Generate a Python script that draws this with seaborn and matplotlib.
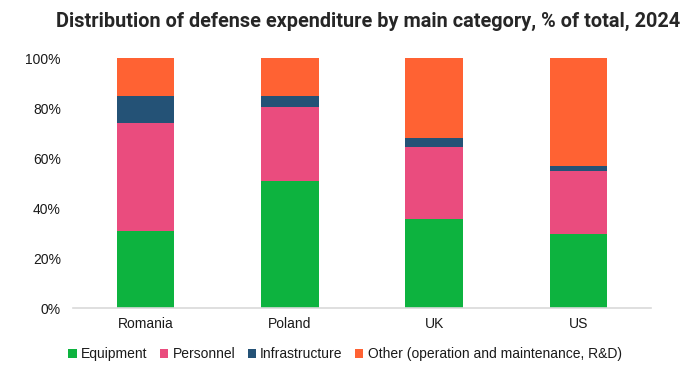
import numpy as np
import pandas as pd
import seaborn as sns
from matplotlib import pyplot as plt
from matplotlib.patches import Patch
from matplotlib.ticker import FuncFormatter

countries = ["Romania", "Poland", "UK", "US"]
categories = ["Equipment", "Personnel", "Infrastructure",
              "Other (operation and maintenance, R&D)"]
equipment = [30.8, 51.0, 35.8, 29.8]
personnel = [43.4, 29.6, 28.6, 25.2]
infrastructure = [10.8, 4.4, 3.8, 1.8]
other = [15.0, 15.0, 31.8, 43.2]
colors = ["#0db33f", "#ea4c7e", "#245276", "#ff6233"]

sns.set_theme(style="white")
plt.rcParams['font.family'] = ['Liberation Sans', 'DejaVu Sans']

df = pd.DataFrame({"country": countries, "Equipment": equipment,
                   "Personnel": personnel, "Infrastructure": infrastructure,
                   "Other": other})
# cumulative tops, drawn from the tallest down so the stack shows
cum = df[["Equipment", "Personnel", "Infrastructure", "Other"]].cumsum(axis=1)

fig = plt.figure(figsize=(6.97, 3.85), dpi=100)
ax = fig.add_axes([0.1052, 0.1992, 0.8284, 0.6494])

for col, c in reversed(list(zip(cum.columns, colors))):
    sns.barplot(x=df["country"], y=cum[col], color=c, width=0.4,
                linewidth=0, saturation=1, ax=ax)

ax.set_ylim(0, 100)
ax.set_xlim(-0.5, 3.5)
ax.set_yticks([0, 20, 40, 60, 80, 100])
ax.yaxis.set_major_formatter(FuncFormatter(lambda v, p: f"{v:.0f}%"))
ax.set_xlabel("")
ax.set_ylabel("")
for s in ["top", "right", "left"]:
    ax.spines[s].set_visible(False)
ax.spines["bottom"].set_color("#d9d9d9")
ax.spines["bottom"].set_linewidth(1.2)
ax.tick_params(axis="y", length=0, pad=9, labelsize=10, labelcolor="#1a1a1a")
ax.tick_params(axis="x", length=0, pad=6, labelsize=10, labelcolor="#1a1a1a")

fig.text(0.528, 0.943, "Distribution of defense expenditure by main category, % of total, 2024",
         ha="center", va="center", fontsize=14.3, fontweight="bold",
         family=["Roboto", "DejaVu Sans"], color="#262626")

handles = [Patch(facecolor=c, edgecolor="none") for c in colors]
fig.legend(handles, categories, loc="center", bbox_to_anchor=(0.495, 0.08),
           ncol=4, frameon=False, fontsize=10, handlelength=0.6, handleheight=0.6,
           handletextpad=0.3, columnspacing=0.9, labelcolor="#1a1a1a")

plt.savefig("out.png", dpi=100)
plt.close(fig)
